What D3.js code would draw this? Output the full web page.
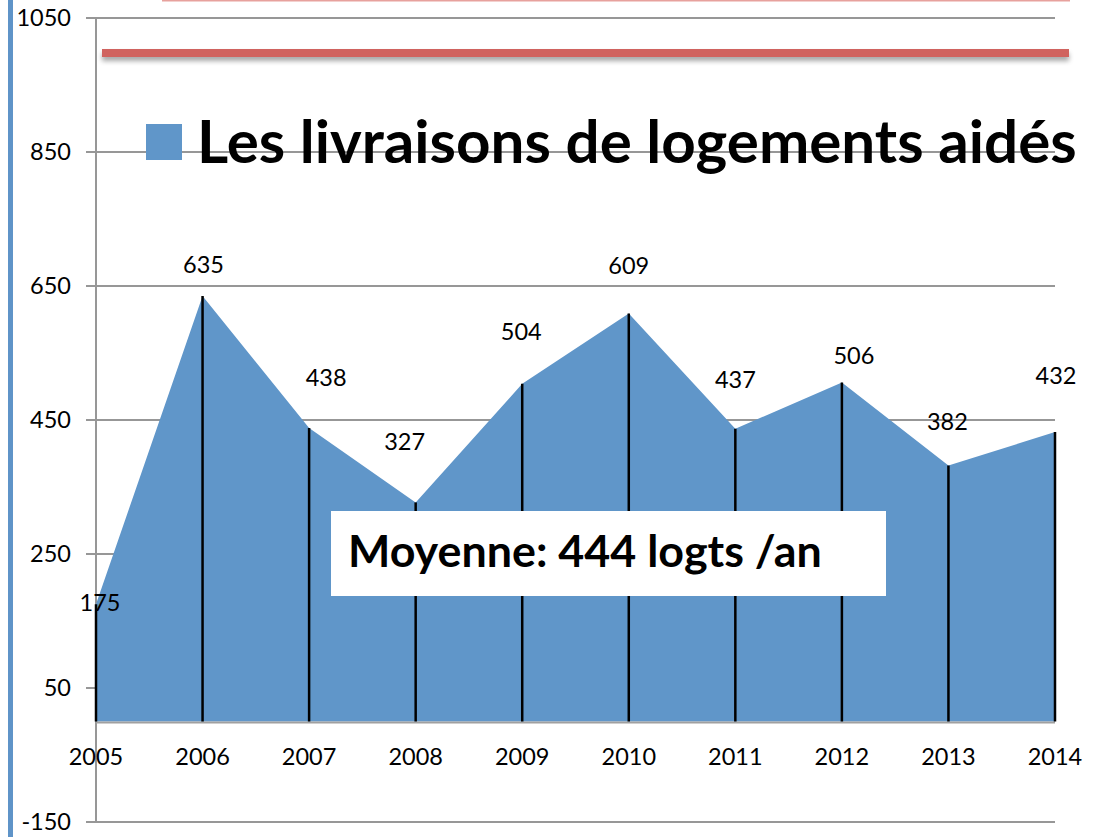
<!DOCTYPE html>
<html><head><meta charset="utf-8">
<script src="https://cdn.jsdelivr.net/npm/d3@7"></script>
<style>
body{margin:0;background:#fff;}
svg{display:block;font-family:Lato,"Open Sans",sans-serif;}
</style></head>
<body>
<script>
const years = ["2005","2006","2007","2008","2009","2010","2011","2012","2013","2014"];
const values = [175,635,438,327,504,609,437,506,382,432];
const yTicks = [-150,50,250,450,650,850,1050];
const seriesName = "Les livraisons de logements aidés";
const averageLabel = "Moyenne: 444 logts /an";
// manual label nudges (dx, dy) as placed in the original chart
const labelNudgeX = [4,1,17,-11,-1,0,0,12,-1,1];
const labelNudgeY = [-1,-31,-50,-61,-52,-48,-49,-27,-44,-56];

const W = 1099, H = 837;
const FS = 23.5;
const svg = d3.select("body").append("svg").attr("width",W).attr("height",H);

const x = d3.scalePoint().domain(years).range([96,1055]);
const y = d3.scaleLinear().domain([-150,1050]).range([822,18]);

// left blue border
svg.append("rect").attr("x",8).attr("y",0).attr("width",5).attr("height",H).attr("fill","#5f94c8");

// top red decorations
svg.append("line").attr("x1",162).attr("x2",1070).attr("y1",0.5).attr("y2",0.5).attr("stroke","#e7a19d").attr("stroke-width",2);
const defs = svg.append("defs");
const f = defs.append("filter").attr("id","sh").attr("x","-5%").attr("y","-200%").attr("width","110%").attr("height","600%");
f.append("feGaussianBlur").attr("in","SourceAlpha").attr("stdDeviation",2.5);
f.append("feOffset").attr("dx",0).attr("dy",4).attr("result","b");
f.append("feComponentTransfer").append("feFuncA").attr("type","linear").attr("slope",0.35);
const m = f.append("feMerge"); m.append("feMergeNode"); m.append("feMergeNode").attr("in","SourceGraphic");
svg.append("rect").attr("x",102).attr("y",49).attr("width",967).attr("height",8).attr("fill","#d0645f").attr("filter","url(#sh)");

// gridlines
svg.append("g").selectAll("line").data(yTicks).join("line")
  .attr("x1",86).attr("x2",1055).attr("y1",d=>y(d)).attr("y2",d=>y(d))
  .attr("stroke","#979797").attr("stroke-width",2);

// y axis line
svg.append("line").attr("x1",96).attr("x2",96).attr("y1",y(1050)).attr("y2",y(-150)).attr("stroke","#979797").attr("stroke-width",2);

// y tick labels
svg.append("g").selectAll("text").data(yTicks).join("text")
  .attr("x",71).attr("y",d=>y(d)).attr("dy","0.35em").attr("text-anchor","end")
  .attr("font-size",FS).attr("fill","#000").text(d=>d);

// area
const data = years.map((yr,i)=>({yr,v:values[i],i}));
const area = d3.area().x(d=>x(d.yr)).y0(y(0)).y1(d=>y(d.v));
svg.append("path").datum(data).attr("d",area).attr("fill","#6096c9");

// x axis at 0
svg.append("line").attr("x1",96).attr("x2",1055).attr("y1",y(0)+1).attr("y2",y(0)+1).attr("stroke","#a0a0a0").attr("stroke-width",2);

// drop lines
svg.append("g").selectAll("line").data(data).join("line")
  .attr("x1",d=>x(d.yr)).attr("x2",d=>x(d.yr)).attr("y1",d=>y(d.v)).attr("y2",y(0))
  .attr("stroke","#000").attr("stroke-width",2.5);

// x labels
svg.append("g").selectAll("text").data(years).join("text")
  .attr("x",d=>x(d)).attr("y",757).attr("dy","0.35em").attr("text-anchor","middle")
  .attr("font-size",FS).text(d=>d);

// data labels
svg.append("g").selectAll("text").data(data).join("text")
  .attr("x",d=>x(d.yr)+labelNudgeX[d.i]).attr("y",d=>y(d.v)+labelNudgeY[d.i])
  .attr("dy","0.35em").attr("text-anchor","middle").attr("font-size",FS).text(d=>d.v);

// legend / title
svg.append("rect").attr("x",146).attr("y",124).attr("width",36).attr("height",36).attr("fill","#6096c9");
const t = svg.append("text").attr("x",197).attr("y",163).attr("font-weight","bold").attr("font-size",52).text(seriesName);
{ const w = t.node().getComputedTextLength(); t.attr("font-size",52*880/w); }

// average box
svg.append("rect").attr("x",331).attr("y",511).attr("width",555).attr("height",85).attr("fill","#fff");
const a = svg.append("text").attr("x",348).attr("y",567).attr("font-weight","bold").attr("font-size",38).text(averageLabel);
{ const w = a.node().getComputedTextLength(); a.attr("font-size",38*474/w); }
</script>
</body></html>
